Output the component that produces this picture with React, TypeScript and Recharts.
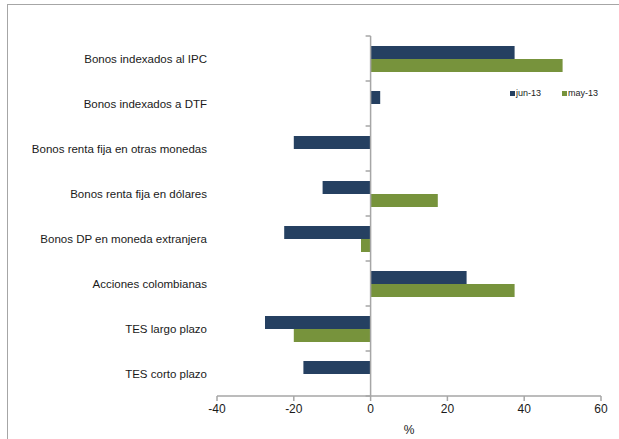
import React from "react";
import { BarChart, Bar, XAxis, YAxis, ReferenceLine } from "recharts";

const categories = [
  "Bonos indexados al IPC",
  "Bonos indexados a DTF",
  "Bonos renta fija en otras monedas",
  "Bonos renta fija en dólares",
  "Bonos DP en moneda extranjera",
  "Acciones colombianas",
  "TES largo plazo",
  "TES corto plazo",
];
const jun13 = [37.5, 2.5, -20, -12.5, -22.5, 25, -27.5, -17.5];
const may13 = [50, 0, 0, 17.5, -2.5, 37.5, -20, 0];
const xTicks = [-40, -20, 0, 20, 40, 60];
const series = [
  { key: "jun", name: "jun-13", color: "#254061" },
  { key: "may", name: "may-13", color: "#77933C" },
];

const data = categories.map((name, i) => ({ name, jun: jun13[i], may: may13[i] }));

const AXIS_COLOR = "#a6a6a6";
const FONT = "'Liberation Sans', Arial, sans-serif";

const ZeroAxis = (props: any) => {
  const x = props.x1 ?? props.x;
  const y1 = Math.min(props.y1, props.y2);
  const y2 = Math.max(props.y1, props.y2);
  const n = categories.length;
  const step = (y2 - y1) / n;
  const ticks = [];
  for (let i = 0; i <= n; i++) {
    const y = y1 + i * step;
    ticks.push(<line key={i} x1={x - 5} x2={x} y1={y} y2={y} stroke={AXIS_COLOR} strokeWidth={1.5} />);
  }
  return (
    <g>
      <line x1={x} x2={x} y1={y1} y2={y2} stroke={AXIS_COLOR} strokeWidth={1.5} />
      {ticks}
    </g>
  );
};

const CategoryTick = (props: any) => {
  const { x, y, payload } = props;
  return (
    <text x={x} y={y} dy="0.355em" textAnchor="end" fill="#1a1a1a" fontSize={11.5} fontFamily={FONT}>
      {payload.value}
    </text>
  );
};

export default function App() {
  return (
    <div style={{ position: "absolute", left: 0, top: 0, width: 619, height: 439, background: "#fff", overflow: "hidden" }}>
      <div
        style={{
          position: "absolute",
          left: 7,
          top: 4,
          width: 700,
          height: 500,
          border: `1.5px solid ${AXIS_COLOR}`,
          boxSizing: "border-box",
        }}
      />
      <div style={{ position: "absolute", left: 0, top: 0 }}>
        <BarChart
          width={619}
          height={439}
          data={data}
          layout="vertical"
          margin={{ top: 36, right: 18, bottom: 3, left: 0 }}
          barSize={13}
          barGap={0}
        >
          <XAxis
            type="number"
            domain={[-40, 60]}
            ticks={xTicks}
            allowDataOverflow
            height={40}
            tickSize={5}
            tickMargin={3}
            axisLine={{ stroke: AXIS_COLOR, strokeWidth: 1.5 }}
            tickLine={{ stroke: AXIS_COLOR, strokeWidth: 1.5 }}
            tick={{ fill: "#1a1a1a", fontSize: 12, fontFamily: FONT }}
            label={{ value: "%", position: "insideBottom", offset: 2, fill: "#1a1a1a", fontSize: 12, fontFamily: FONT }}
          />
          <YAxis
            type="category"
            dataKey="name"
            width={217}
            axisLine={false}
            tickLine={false}
            tickSize={6}
            tickMargin={4}
            interval={0}
            tick={<CategoryTick />}
          />
          {series.map((s) => (
            <Bar key={s.key} dataKey={s.key} name={s.name} fill={s.color} isAnimationActive={false} />
          ))}
          <ReferenceLine x={0} shape={<ZeroAxis />} />
        </BarChart>
      </div>
      <div
        style={{
          position: "absolute",
          left: 510,
          top: 88,
          display: "flex",
          fontFamily: FONT,
          fontSize: 9,
          color: "#222",
          lineHeight: "10px",
        }}
      >
        {series.map((s, i) => (
          <div key={s.key} style={{ display: "flex", alignItems: "center", marginRight: i === 0 ? 21 : 0 }}>
            <span style={{ display: "inline-block", width: 5, height: 5, background: s.color, marginRight: 1 }} />
            <span>{s.name}</span>
          </div>
        ))}
      </div>
    </div>
  );
}
